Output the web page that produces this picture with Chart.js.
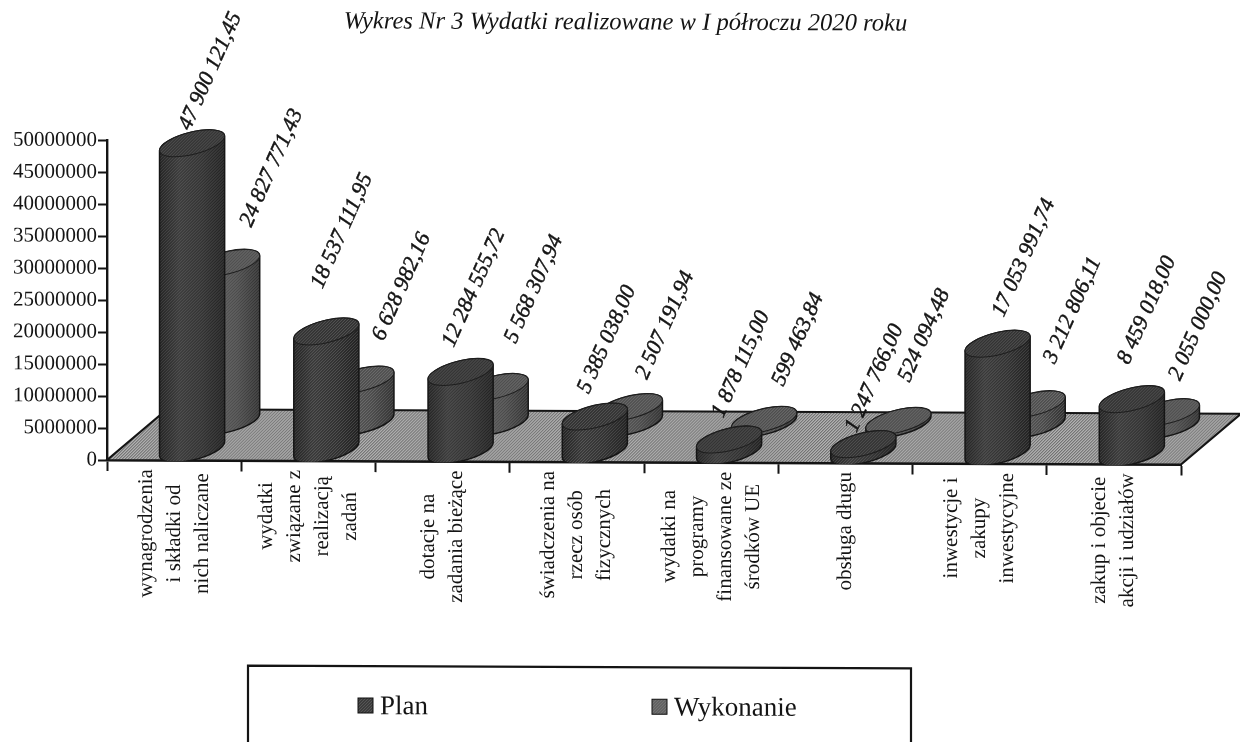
<!DOCTYPE html>
<html lang="pl">
<head>
<meta charset="utf-8">
<style>html,body{margin:0;padding:0;background:#fff;overflow:hidden}canvas{display:block}</style>
<script src="https://cdn.jsdelivr.net/npm/chart.js@4/dist/chart.umd.min.js"></script>
</head>
<body>
<canvas id="c" width="1240" height="742"></canvas>
<script>
const chartTitle = "Wykres Nr 3 Wydatki realizowane w I półroczu 2020 roku";
const categories = [
  ["wynagrodzenia", "i składki od", "nich naliczane"],
  ["wydatki", "związane z", "realizacją", "zadań"],
  ["dotacje na", "zadania bieżące"],
  ["świadczenia na", "rzecz osób", "fizycznych"],
  ["wydatki na", "programy", "finansowane ze", "środków UE"],
  ["obsługa długu"],
  ["inwestycje i", "zakupy", "inwestycyjne"],
  ["zakup i objecie", "akcji i udziałów"]
];
const planValues = [47900121.45, 18537111.95, 12284555.72, 5385038.00, 1878115.00, 1247766.00, 17053991.74, 8459018.00];
const wykonanieValues = [24827771.43, 6628982.16, 5568307.94, 2507191.94, 599463.84, 524094.48, 3212806.11, 2055000.00];
const seriesNames = ["Plan", "Wykonanie"];

const SERIF = '"Liberation Serif", "Times New Roman", serif';
const INK = "#141414";
const SKEW = 0.0042;
const DEPTH_X = 35.5;
const DEPTH_Y = [-11, -39];
const LABEL_OFFSET = [[-9, -24], [17, -35]];
const LABEL_NUDGE = [
  [[7, 12], [5, -18], [2, 0], [3, 2], [3, 3], [2, 13], [15, -2], [6, -10]],
  [[7, 0], [5, -3], [3, -8], [0, 8], [2, 2], [-6, -3], [5, -5], [-4, 4]]
];
const LABEL_ANGLE = -66 * Math.PI / 180;
const TILT = -0.25;
const shades = [
  {stops: ["#262626", "#3f3f3f", "#363636", "#242424"], top: "#383838", swatch: "#3f3f3f"},
  {stops: ["#383838", "#5e5e5e", "#525252", "#363636"], top: "#565656", swatch: "#666666"}
];

function ditherPattern(ctx, alpha) {
  const p = document.createElement("canvas");
  p.width = p.height = 3;
  const g = p.getContext("2d");
  g.fillStyle = `rgba(255,255,255,${alpha})`;
  g.fillRect(0, 0, 1, 1); g.fillRect(2, 1, 1, 1); g.fillRect(1, 2, 1, 1);
  g.fillStyle = `rgba(0,0,0,${alpha})`;
  g.fillRect(1, 0, 1, 1); g.fillRect(0, 1, 1, 1); g.fillRect(2, 2, 1, 1);
  return ctx.createPattern(p, "repeat");
}

function cylinder(ctx, cx, topY, baseY, w, shade, dither) {
  const c = Math.cos(TILT), s = Math.sin(TILT);
  const a = (w / 2) / Math.sqrt(c * c + 0.1089 * s * s), b = a * 0.33;
  const tR = Math.atan2(-b * s, a * c);
  const body = () => {
    ctx.beginPath();
    ctx.ellipse(cx, baseY, a, b, TILT, tR, tR + Math.PI, false);
    ctx.ellipse(cx, topY, a, b, TILT, tR + Math.PI, tR + 2 * Math.PI, false);
    ctx.closePath();
  };
  const grad = ctx.createLinearGradient(cx - w / 2, 0, cx + w / 2, 0);
  shade.stops.forEach((col, i) => grad.addColorStop([0, 0.3, 0.65, 1][i], col));
  body();
  ctx.fillStyle = grad; ctx.fill();
  ctx.fillStyle = dither; ctx.fill();
  ctx.strokeStyle = "#151515"; ctx.lineWidth = 1.5; ctx.stroke();
  ctx.beginPath();
  ctx.ellipse(cx, topY, a, b, TILT, 0, 2 * Math.PI);
  ctx.fillStyle = shade.top; ctx.fill();
  ctx.fillStyle = dither; ctx.fill();
  ctx.strokeStyle = "#1e1e1e"; ctx.lineWidth = 1; ctx.stroke();
}

function plLabel(v) {
  const [i, d] = v.toFixed(2).split(".");
  return i.replace(/\B(?=(\d{3})+$)/g, " ") + "," + d;
}

const scene = {
  id: "scene3d",
  afterLayout(chart) {
    chart.titleBlock.left += 35;
    chart.titleBlock.right += 35;
  },
  beforeDraw(chart) {
    const ctx = chart.ctx;
    ctx.save();
    ctx.transform(1, SKEW, 0, 1, 0, -SKEW * chart.chartArea.left);
  },
  beforeDatasetsDraw(chart) {
    const ctx = chart.ctx, {left, right, bottom} = chart.chartArea;
    const dx = 60, dy = -51;
    ctx.save();
    ctx.beginPath();
    ctx.moveTo(left, bottom); ctx.lineTo(left + dx, bottom + dy);
    ctx.lineTo(right + dx, bottom + dy); ctx.lineTo(right, bottom);
    ctx.closePath();
    ctx.fillStyle = "#989898"; ctx.fill();
    ctx.fillStyle = ditherPattern(ctx, 0.25); ctx.fill();
    ctx.strokeStyle = INK; ctx.lineWidth = 2.2; ctx.stroke();
    ctx.restore();

    ctx.save();
    ctx.fillStyle = INK; ctx.strokeStyle = INK; ctx.lineWidth = 0.45;
    ctx.font = "italic 22px " + SERIF;
    ctx.textAlign = "left"; ctx.textBaseline = "alphabetic";
    [0, 1].forEach(ds => {
      chart.getDatasetMeta(ds).data.forEach((el, i) => {
        const v = chart.data.datasets[ds].data[i];
        const n = LABEL_NUDGE[ds][i];
        ctx.save();
        ctx.translate(el.x + DEPTH_X + LABEL_OFFSET[ds][0] + n[0], el.y + DEPTH_Y[ds] + LABEL_OFFSET[ds][1] + n[1]);
        ctx.rotate(LABEL_ANGLE);
        ctx.fillText(plLabel(v), 0, 0);
        ctx.strokeText(plLabel(v), 0, 0);
        ctx.restore();
      });
    });
    ctx.restore();
  },
  afterDatasetsDraw(chart) {
    const ctx = chart.ctx, {bottom} = chart.chartArea;
    const dither = ditherPattern(ctx, 0.13);
    ctx.save();
    ctx.beginPath();
    ctx.rect(0, 0, chart.width, bottom + 1);
    ctx.clip();
    [1, 0].forEach(ds => {
      chart.getDatasetMeta(ds).data.forEach(el => {
        cylinder(ctx, el.x + DEPTH_X, el.y + DEPTH_Y[ds], el.base + DEPTH_Y[ds], el.width, shades[ds], dither);
      });
    });
    ctx.restore();

    const xs = chart.scales.x;
    ctx.save();
    ctx.fillStyle = INK;
    ctx.font = "21px " + SERIF;
    ctx.textAlign = "center"; ctx.textBaseline = "middle";
    chart.data.labels.forEach((lines, i) => {
      const longest = Math.max(...lines.map(l => ctx.measureText(l).width));
      const cy = bottom + 9 + longest / 2;
      const cx = xs.getPixelForValue(i);
      lines.forEach((line, j) => {
        ctx.save();
        ctx.translate(cx + (j - (lines.length - 1) / 2) * 28, cy);
        ctx.rotate(-Math.PI / 2);
        ctx.fillText(line, 0, 0);
        ctx.restore();
      });
    });
    ctx.restore();

    ctx.save();
    ctx.strokeStyle = INK; ctx.lineWidth = 2.2;
    ctx.beginPath();
    ctx.moveTo(248, 760); ctx.lineTo(248, 665); ctx.lineTo(911, 665); ctx.lineTo(911, 760);
    ctx.stroke();
    ctx.font = "27px " + SERIF;
    ctx.textAlign = "left"; ctx.textBaseline = "alphabetic";
    const legendX = [358, 652];
    seriesNames.forEach((name, i) => {
      ctx.fillStyle = shades[i].swatch;
      ctx.fillRect(legendX[i], 697, 15, 15);
      ctx.fillStyle = dither; ctx.fillRect(legendX[i], 697, 15, 15);
      ctx.strokeStyle = "#111"; ctx.lineWidth = 1;
      ctx.strokeRect(legendX[i], 697, 15, 15);
      ctx.fillStyle = INK;
      ctx.fillText(name, legendX[i] + 22, 713);
    });
    ctx.restore();
  },
  afterDraw(chart) { chart.ctx.restore(); }
};

new Chart(document.getElementById("c"), {
  type: "bar",
  plugins: [scene],
  data: {
    labels: categories,
    datasets: [
      {label: seriesNames[0], data: planValues, backgroundColor: "transparent", borderWidth: 0},
      {label: seriesNames[1], data: wykonanieValues, backgroundColor: "transparent", borderWidth: 0}
    ]
  },
  options: {
    responsive: false,
    animation: false,
    events: [],
    categoryPercentage: 0.5224,
    barPercentage: 1.857,
    layout: {padding: {left: 0, right: 59, top: 0, bottom: 0}},
    plugins: {
      legend: {display: false},
      tooltip: {enabled: false},
      title: {
        display: true, text: chartTitle, color: INK,
        font: {family: SERIF, size: 24.6, style: "italic", weight: "normal"},
        padding: {top: 6, bottom: 105}
      }
    },
    scales: {
      x: {
        afterFit: s => { s.height = 282; },
        grid: {drawOnChartArea: false, drawTicks: true, tickLength: 11, tickColor: INK, tickWidth: 2},
        border: {color: INK, width: 2.4},
        ticks: {display: false}
      },
      y: {
        min: 0, max: 50000000,
        afterFit: s => { s.width = 107; },
        grid: {drawOnChartArea: false, drawTicks: true, tickLength: 9, tickColor: INK, tickWidth: 2},
        border: {color: INK, width: 2.4},
        ticks: {
          stepSize: 5000000, padding: 1, color: INK,
          font: {family: SERIF, size: 21},
          callback: v => String(v)
        }
      }
    }
  }
});
</script>
</body>
</html>
